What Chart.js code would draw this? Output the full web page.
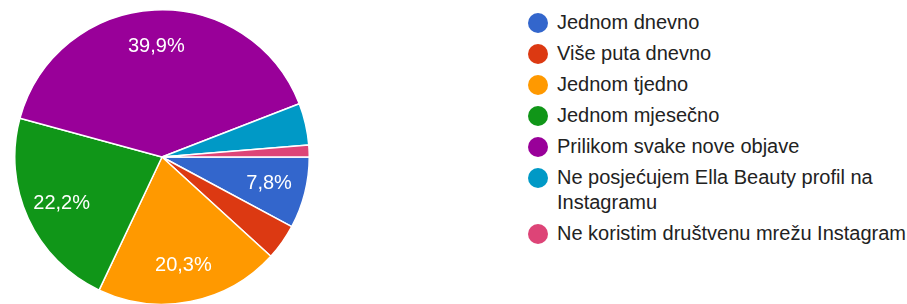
<!DOCTYPE html>
<html>
<head>
<meta charset="utf-8">
<script src="https://cdn.jsdelivr.net/npm/chart.js@4"></script>
<style>
  html, body { margin: 0; padding: 0; background: #fff; width: 907px; height: 304px; overflow: hidden; }
  #pieBox { position: absolute; left: 14px; top: 9px; width: 296px; height: 296px; }
  #legend { position: absolute; left: 528px; top: 10px; width: 379px; font-family: "Liberation Sans", Arial, sans-serif; font-size: 20px; color: #222; }
  .item { position: relative; padding-left: 29px; line-height: 25px; margin-bottom: 6px; white-space: normal; }
  .dot { position: absolute; left: 0; top: 2.5px; width: 20px; height: 20px; border-radius: 50%; }
</style>
</head>
<body>
<div id="pieBox"><canvas id="c"></canvas></div>
<div id="legend"></div>
<script>
const labels = [
  "Jednom dnevno",
  "Više puta dnevno",
  "Jednom tjedno",
  "Jednom mjesečno",
  "Prilikom svake nove objave",
  "Ne posjećujem Ella Beauty profil na Instagramu",
  "Ne koristim društvenu mrežu Instagram"
];
const counts = [12, 6, 31, 34, 61, 7, 2];
const colors = ["#3366cc", "#dc3912", "#ff9900", "#109618", "#990099", "#0099c6", "#dd4477"];

const total = counts.reduce((a, b) => a + b, 0);

const sliceLabels = {
  id: 'sliceLabels',
  afterDatasetsDraw(chart) {
    const ctx = chart.ctx;
    const meta = chart.getDatasetMeta(0);
    ctx.save();
    ctx.fillStyle = '#ffffff';
    ctx.font = '20px "Liberation Sans", Arial, sans-serif';
    ctx.textAlign = 'center';
    ctx.textBaseline = 'middle';
    meta.data.forEach((arc, i) => {
      const pct = counts[i] / total * 100;
      if (pct < 5) return;
      const mid = (arc.startAngle + arc.endAngle) / 2;
      const r = arc.outerRadius * 0.75;
      const x = arc.x + Math.cos(mid) * r;
      const y = arc.y + Math.sin(mid) * r;
      ctx.fillText(pct.toFixed(1).replace('.', ',') + '%', x, y);
    });
    ctx.restore();
  }
};

new Chart(document.getElementById('c'), {
  type: 'pie',
  data: {
    labels: labels,
    datasets: [{
      data: counts,
      backgroundColor: colors,
      borderColor: '#ffffff',
      borderWidth: 1.5
    }]
  },
  options: {
    responsive: true,
    maintainAspectRatio: false,
    animation: false,
    rotation: 90,
    layout: { padding: 0 },
    plugins: { legend: { display: false }, tooltip: { enabled: false } }
  },
  plugins: [sliceLabels]
});

const legend = document.getElementById('legend');
labels.forEach((l, i) => {
  const d = document.createElement('div');
  d.className = 'item';
  const dot = document.createElement('span');
  dot.className = 'dot';
  dot.style.background = colors[i];
  d.appendChild(dot);
  const t = document.createElement('span');
  t.textContent = l;
  d.appendChild(t);
  legend.appendChild(d);
});
</script>
</body>
</html>
